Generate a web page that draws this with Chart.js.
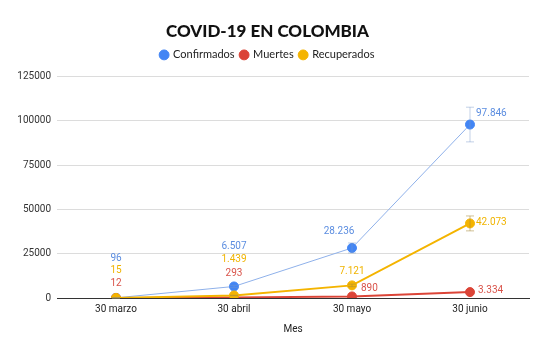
<!DOCTYPE html>
<html lang="es">
<head>
    <meta charset="UTF-8">
    <title>COVID-19 en Colombia</title>
    <script src="https://cdn.jsdelivr.net/npm/chart.js"></script>
    <style>
        html, body { margin: 0; padding: 0; background: #fff; }
        #wrap { width: 545px; height: 351px; position: relative; }
    </style>
</head>
<body>
    <div id="wrap"><canvas id="chart"></canvas></div>
    <script>
        // Datos
        const meses = ['30 marzo', '30 abril', '30 mayo', '30 junio'];
        const confirmados = [96, 6507, 28236, 97846];
        const muertes = [12, 293, 890, 3334];
        const recuperados = [15, 1439, 7121, 42073];
        const ticksY = [0, 25000, 50000, 75000, 100000, 125000];
        const errorPct = 0.10;

        // Posición de las etiquetas (desplazamiento respecto al punto, en px)
        const offsets = {
            Confirmados: [[0, -39, 'center'], [0, -40, 'center'], [-13, -16, 'center'], [6, -11, 'left']],
            Muertes: [[0, -14, 'center'], [0, -24, 'center'], [9, -8, 'left'], [8, -2, 'left']],
            Recuperados: [[0, -27, 'center'], [0, -36, 'center'], [0, -14, 'center'], [6, -1, 'left']]
        };

        const fmt = v => v.toLocaleString('de-DE');

        // Espacio extra bajo la leyenda
        const legendGap = {
            id: 'legendGap',
            beforeInit(chart) {
                const fit = chart.legend.fit;
                chart.legend.fit = function () {
                    fit.bind(chart.legend)();
                    this.height += 6;
                };
            }
        };

        // Barras de error (10%)
        const errorBars = {
            id: 'errorBars',
            afterDatasetsDraw(chart) {
                const ctx = chart.ctx;
                const y = chart.scales.y;
                chart.data.datasets.forEach((ds, i) => {
                    if (!ds.errorColor) return;
                    const meta = chart.getDatasetMeta(i);
                    meta.data.forEach((pt, j) => {
                        const v = ds.data[j];
                        const yTop = y.getPixelForValue(v * (1 + errorPct));
                        const yBot = y.getPixelForValue(v * (1 - errorPct));
                        ctx.save();
                        ctx.strokeStyle = ds.errorColor;
                        ctx.lineWidth = 1;
                        ctx.beginPath();
                        ctx.moveTo(pt.x, yTop); ctx.lineTo(pt.x, yBot);
                        ctx.moveTo(pt.x - 4, yTop); ctx.lineTo(pt.x + 4, yTop);
                        ctx.moveTo(pt.x - 4, yBot); ctx.lineTo(pt.x + 4, yBot);
                        ctx.stroke();
                        ctx.restore();
                    });
                });
            }
        };

        // Etiquetas de datos
        const etiquetas = {
            id: 'etiquetas',
            afterDraw(chart) {
                const ctx = chart.ctx;
                chart.data.datasets.forEach((ds, i) => {
                    const meta = chart.getDatasetMeta(i);
                    meta.data.forEach((pt, j) => {
                        const o = offsets[ds.label][j];
                        ctx.save();
                        ctx.font = '10px "Roboto", sans-serif';
                        ctx.fillStyle = ds.labelColor;
                        ctx.textAlign = o[2];
                        ctx.textBaseline = 'middle';
                        ctx.fillText(fmt(ds.data[j]), pt.x + o[0], pt.y + o[1]);
                        ctx.restore();
                    });
                });
            }
        };

        const ctx = document.getElementById('chart').getContext('2d');
        new Chart(ctx, {
            type: 'line',
            data: {
                labels: meses,
                datasets: [
                    {
                        label: 'Confirmados',
                        data: confirmados,
                        borderColor: '#8fb1ea',
                        backgroundColor: '#4285f4',
                        pointBackgroundColor: '#4285f4',
                        pointBorderColor: '#4285f4',
                        borderWidth: 1,
                        pointRadius: 4.5,
                        pointBorderWidth: 1,
                        errorColor: 'rgba(120,150,200,0.45)',
                        labelColor: '#5b8de0',
                        order: 2
                    },
                    {
                        label: 'Muertes',
                        data: muertes,
                        borderColor: '#db4437',
                        backgroundColor: '#db4437',
                        pointBackgroundColor: '#db4437',
                        pointBorderColor: '#db4437',
                        borderWidth: 2,
                        pointRadius: 4.5,
                        pointBorderWidth: 1,
                        labelColor: '#d9534a',
                        order: 1
                    },
                    {
                        label: 'Recuperados',
                        data: recuperados,
                        borderColor: '#f4b400',
                        backgroundColor: '#f4b400',
                        pointBackgroundColor: '#f4b400',
                        pointBorderColor: '#f4b400',
                        borderWidth: 2,
                        pointRadius: 4.5,
                        pointBorderWidth: 1,
                        errorColor: 'rgba(170,140,60,0.55)',
                        labelColor: '#f0b400',
                        order: 0
                    }
                ]
            },
            options: {
                responsive: true,
                maintainAspectRatio: false,
                animation: false,
                layout: { padding: { left: 6, right: 16, top: 14, bottom: 12 } },
                plugins: {
                    title: {
                        display: true,
                        text: 'COVID-19 EN COLOMBIA',
                        color: '#111',
                        font: { family: 'Lato', size: 17, weight: '900' },
                        padding: { top: 7, bottom: 2 }
                    },
                    legend: {
                        display: true,
                        labels: {
                            usePointStyle: true,
                            pointStyle: 'circle',
                            boxWidth: 7,
                            boxHeight: 7,
                            padding: 6,
                            color: '#222',
                            font: { family: 'Lato', size: 11 },
                            sort: (a, b) => a.datasetIndex - b.datasetIndex
                        }
                    },
                    tooltip: { enabled: false }
                },
                scales: {
                    x: {
                        offset: true,
                        grid: { display: false, drawTicks: false },
                        border: { color: '#333' },
                        ticks: { color: '#222', font: { family: 'Roboto', size: 10 }, padding: 5 },
                        title: {
                            display: true,
                            text: 'Mes',
                            color: '#222',
                            font: { family: 'Roboto', size: 10 },
                            padding: { top: 3 }
                        }
                    },
                    y: {
                        min: 0,
                        max: 125000,
                        afterBuildTicks: axis => { axis.ticks = ticksY.map(v => ({ value: v })); },
                        afterFit: axis => { axis.width = 51; },
                        grid: { color: '#dcdcdc', drawTicks: false },
                        border: { display: false },
                        ticks: {
                            color: '#333',
                            font: { family: 'Roboto', size: 10 },
                            padding: 6,
                            callback: v => String(v)
                        }
                    }
                }
            },
            plugins: [legendGap, errorBars, etiquetas]
        });
    </script>
</body>
</html>
